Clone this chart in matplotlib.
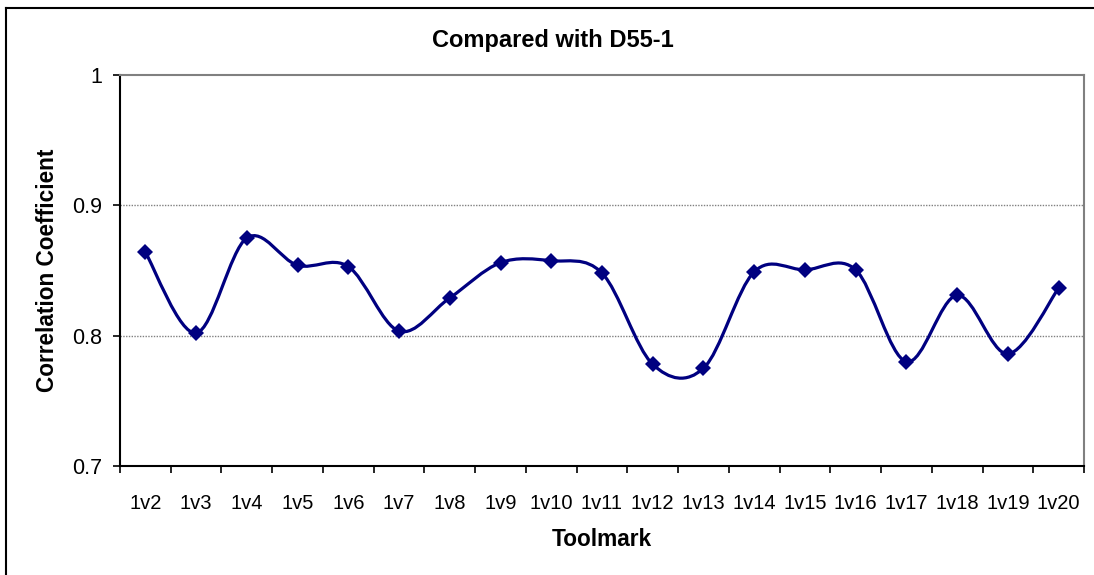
import numpy as np
import matplotlib
matplotlib.use("Agg")
import matplotlib.pyplot as plt
from matplotlib.path import Path
from matplotlib.patches import PathPatch
from matplotlib.lines import Line2D

categories = ["1v2", "1v3", "1v4", "1v5", "1v6", "1v7", "1v8", "1v9", "1v10", "1v11",
              "1v12", "1v13", "1v14", "1v15", "1v16", "1v17", "1v18", "1v19", "1v20"]
values = [0.864, 0.802, 0.875, 0.854, 0.853, 0.8035, 0.829, 0.856, 0.8575, 0.848,
          0.778, 0.775, 0.849, 0.8505, 0.8505, 0.780, 0.831, 0.786, 0.8365]
y_ticks = [0.7, 0.8, 0.9, 1.0]
y_tick_labels = ["0.7", "0.8", "0.9", "1"]

plt.rcParams['font.family'] = ['Liberation Sans', 'DejaVu Sans']

W, H = 1094, 575
fig = plt.figure(figsize=(W/100, H/100), dpi=100)
ax = fig.add_axes([120/W, 1-466/H, (1084-120)/W, (466-75)/H])

navy = '#000080'
x = np.arange(len(categories))
y = np.array(values)

# Excel-like smoothed line: cubic Bezier (Catmull-Rom style) through the points
verts = [(x[0], y[0])]
codes = [Path.MOVETO]
n = len(x)
for i in range(n - 1):
    p0 = np.array([x[max(i-1, 0)], y[max(i-1, 0)]])
    p1 = np.array([x[i], y[i]])
    p2 = np.array([x[i+1], y[i+1]])
    p3 = np.array([x[min(i+2, n-1)], y[min(i+2, n-1)]])
    c1 = p1 + (p2 - p0) / 6.0
    c2 = p2 - (p3 - p1) / 6.0
    verts += [tuple(c1), tuple(c2), tuple(p2)]
    codes += [Path.CURVE4] * 3
ax.add_patch(PathPatch(Path(verts, codes), fill=False, edgecolor=navy, lw=2.3,
                       zorder=3, capstyle='round', joinstyle='round'))
ax.plot(x, y, linestyle='none', marker='D', markersize=8.3, color=navy,
        markeredgewidth=0, zorder=4)

ax.set_xlim(-0.5, len(categories) - 0.5)
ax.set_ylim(0.7, 1.0)

# gridlines
for gy in [0.8, 0.9]:
    ax.axhline(gy, color='#808080', lw=1.0, linestyle=(0, (1, 1)), zorder=1)

for s in ['top', 'right']:
    ax.spines[s].set_color('#808080')
    ax.spines[s].set_linewidth(1.5)
for s in ['left', 'bottom']:
    ax.spines[s].set_color('black')
    ax.spines[s].set_linewidth(1.5)

ax.set_yticks(y_ticks)
ax.set_yticklabels(y_tick_labels)
ax.tick_params(axis='y', direction='out', length=5, width=1.2, pad=8, labelsize=15.5)

ax.set_xticks(x)
ax.set_xticklabels(categories)
ax.set_xticks(np.arange(-0.5, len(categories), 1), minor=True)
ax.tick_params(axis='x', which='major', length=0, pad=20, labelsize=14.5)
ax.tick_params(axis='x', which='minor', direction='out', length=5, width=1.2)

fig.text(553/W, 1-40/H, "Compared with D55-1", fontsize=17, fontweight='bold',
         ha='center', va='center')
ax.set_ylabel("Correlation Coefficient", fontsize=16.3, fontweight='bold', va='center')
ax.yaxis.set_label_coords((48-120)/964, 0.5)
ax.set_xlabel("Toolmark", fontsize=16.3, fontweight='bold', va='center')
ax.xaxis.set_label_coords(0.5, -(539-466)/391)

# outer chart border (top and left visible)
fig.add_artist(Line2D([6/W, 1.0], [1-8/H, 1-8/H], color='black', lw=1.5,
                      transform=fig.transFigure))
fig.add_artist(Line2D([6/W, 6/W], [0.0, 1-8/H], color='black', lw=1.5,
                      transform=fig.transFigure))

fig.savefig("out.png", dpi=100)
